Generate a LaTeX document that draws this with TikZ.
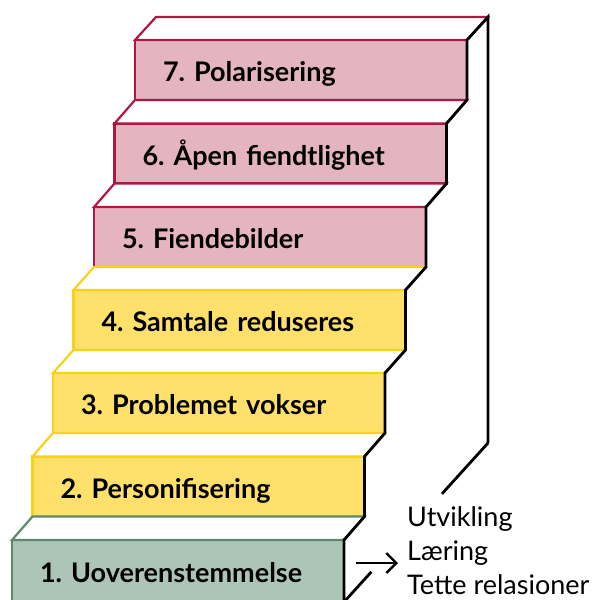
\documentclass[tikz,border=0pt]{standalone}
\usepackage{fontspec}
\setmainfont{Lato}
\usetikzlibrary{arrows.meta,calc}
\definecolor{roseFill}{HTML}{E4B4C1}
\definecolor{roseLine}{HTML}{B01842}
\definecolor{sunFill}{HTML}{FEE06B}
\definecolor{sunLine}{HTML}{F7D21A}
\definecolor{sageFill}{HTML}{ACC5B7}
\definecolor{sageLine}{HTML}{5C8A70}
\frenchspacing

\begin{document}
\begin{tikzpicture}[
  x=1pt, y=-1pt,
  font=\fontsize{27}{34}\selectfont,
  stepbox/.style = {rectangle, draw, line width=2.2pt, anchor=north west,
                    minimum width=332pt, minimum height=60pt, outer sep=0pt,
                    text width=276pt, inner xsep=28pt, inner ysep=0pt, align=left,
                    text height=23pt, text depth=0pt,
                    font=\fontsize{27}{34}\selectfont\bfseries},
  rose/.style = {stepbox, fill=roseFill, draw=roseLine},
  sun/.style = {stepbox, fill=sunFill, draw=sunLine},
  sage/.style = {stepbox, fill=sageFill, draw=sageLine},
  tread/.style = {fill=white, line width=2.2pt, line join=miter},
  edge/.style = {line width=2.8pt, line join=miter},
  note/.style = {anchor=base west, align=left, inner sep=0pt},
  prim/.style = {-{Straight Barb[length=10pt,width=20pt]}, line width=2.4pt}
]
\clip (0,0) rectangle (597,600);

% Front faces of the steps, top to bottom
\node[rose] (s7) at (135,40) {7. Polarisering};
\node[rose] (s6) at (114.5,123.5) {6. Åpen fiendtlighet};
\node[rose] (s5) at (94,207) {5. Fiendebilder};
\node[sun] (s4) at (73.5,290) {4. Samtale reduseres};
\node[sun] (s3) at (53,373) {3. Problemet vokser};
\node[sun] (s2) at (32.5,456.5) {2. Personifisering};
\node[sage, minimum height=62pt] (s1) at (12,540) {1. Uoverenstemmelse};

% Treads
\draw[tread, draw=roseLine] (s7.north west) -- ++(21,-23) -- ++(332,0) -- (s7.north east) -- cycle;
\draw[tread, draw=roseLine] (s6.north west) -- (s7.south west) -- (s7.south east) -- (s6.north east) -- cycle;
\draw[tread, draw=roseLine] (s5.north west) -- (s6.south west) -- (s6.south east) -- (s5.north east) -- cycle;
\draw[tread, draw=sunLine] (s4.north west) -- (s5.south west) -- (s5.south east) -- (s4.north east) -- cycle;
\draw[tread, draw=sunLine] (s3.north west) -- (s4.south west) -- (s4.south east) -- (s3.north east) -- cycle;
\draw[tread, draw=sunLine] (s2.north west) -- (s3.south west) -- (s3.south east) -- (s2.north east) -- cycle;
\draw[tread, draw=sageLine] (s1.north west) -- (s2.south west) -- (s2.south east) -- (s1.north east) -- cycle;

% Right side outline and back wall
\coordinate (wall) at ([shift={(21,-23)}]s7.north east);
\coordinate (base) at (488,443);
\draw[edge] (s1.south east) -- (s1.north east) -- (s2.south east) -- (s2.north east)
  -- (s3.south east) -- (s3.north east) -- (s4.south east) -- (s4.north east)
  -- (s5.south east) -- (s5.north east) -- (s6.south east) -- (s6.north east)
  -- (s7.south east) -- (s7.north east) -- (wall) -- (base);
\draw[edge] (base) -- ($(base)!0.32!(s1.south east)$);
\draw[edge] ($(base)!0.81!(s1.south east)$) -- (s1.south east);

% Outcomes of the first step
\node[note] (out) at (407,594) {Utvikling\\Læring\\Tette relasioner};
\coordinate (tail) at (356,563);
\draw[prim, shorten >=9pt] (tail) -- (tail -| out.west);

\end{tikzpicture}
\end{document}
